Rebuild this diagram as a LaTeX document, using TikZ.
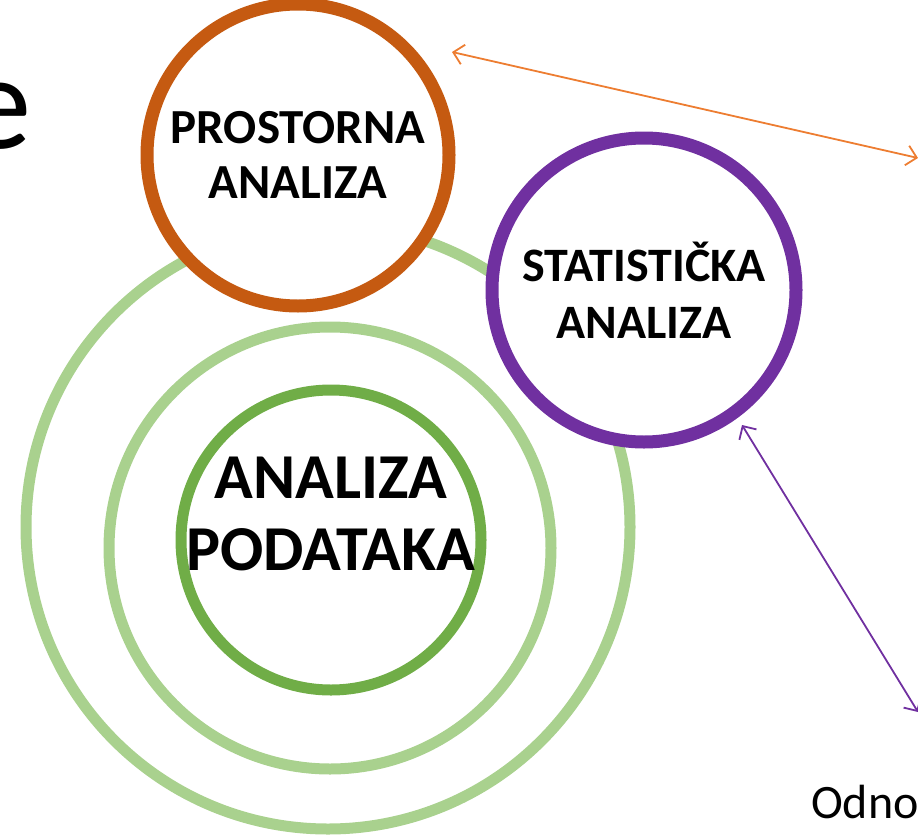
\documentclass[tikz,border=0pt]{standalone}
\usepackage{fontspec}
\setmainfont{Carlito}
\usetikzlibrary{arrows.meta}
\definecolor{ringlight}{HTML}{A9D18E}
\definecolor{ringgreen}{HTML}{70AD47}
\definecolor{ringorange}{HTML}{C55A11}
\definecolor{ringpurple}{HTML}{7030A0}
\definecolor{arroworange}{HTML}{ED7D31}
\tikzset{
  ring/.style={circle, line width=11pt, inner sep=0pt, align=center, font=\bfseries},
  label/.style={align=center, inner sep=0pt},
  link/.style={line width=1.8pt, {Straight Barb[length=10pt,width=20pt]}-{Straight Barb[length=10pt,width=20pt]}},
}
\begin{document}
\begin{tikzpicture}[x=1pt,y=-1pt]
\useasboundingbox (0,0) rectangle (918,835);
\node[ring, draw=ringlight, minimum size=604pt] (outer) at (328,527) {};
\node[ring, draw=ringlight, minimum size=442pt] (middle) at (330,548) {};
\node[ring, draw=ringgreen, minimum size=300pt] (inner) at (331,540) {};
\node[label, font=\bfseries\fontsize{64}{72}\selectfont] (innertext) at (331,514) {ANALIZA\\PODATAKA};
\node[ring, draw=ringorange, fill=white, minimum size=302pt, line width=13pt, font=\bfseries\fontsize{49}{55}\selectfont] (prost) at (298,155) {PROSTORNA\\ANALIZA};
\node[ring, draw=ringpurple, fill=white, minimum size=304pt, line width=13pt, font=\bfseries\fontsize{48}{57}\selectfont] (stat) at (644,290) {STATISTIČKA\\ANALIZA};
\node[anchor=base west, font=\fontsize{135}{135}\selectfont, inner sep=0pt] (e) at (-36,148) {e};
\node[anchor=base west, font=\fontsize{48}{52}\selectfont, inner sep=0pt] (odno) at (811,818) {Odno};
\coordinate (oend) at (918,158);
\coordinate (pend) at (918,712);
\coordinate (ostart) at (452,52);
\coordinate (pstart) at (742,425);
\draw[link, arroworange] (ostart) -- (oend);
\draw[link, ringpurple] (pstart) -- (pend);
\end{tikzpicture}
\end{document}
